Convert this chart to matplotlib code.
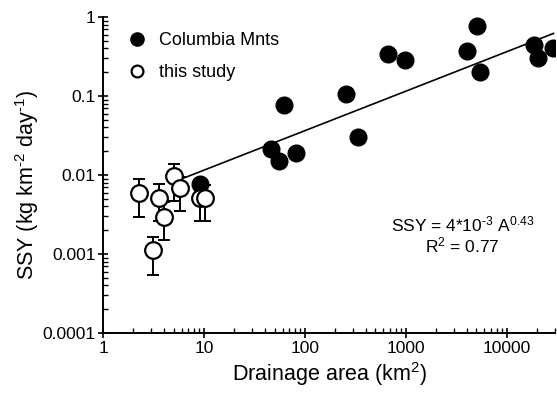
import matplotlib
matplotlib.use("Agg")
import matplotlib.pyplot as plt
from matplotlib.ticker import LogLocator, NullFormatter, FixedLocator, FixedFormatter

plt.rcParams['font.family'] = ['Liberation Sans', 'DejaVu Sans']
plt.rcParams['mathtext.fontset'] = 'custom'
plt.rcParams['mathtext.rm'] = 'Liberation Sans'
plt.rcParams['mathtext.it'] = 'Liberation Sans'
plt.rcParams['mathtext.bf'] = 'Liberation Sans:bold'

# Columbia Mnts (filled)
col_area = [9.2, 45.9, 55.6, 61.4, 81.3, 254, 334, 665, 988, 4064, 5109, 5380, 18450, 20200, 28500]
col_ssy = [0.0077, 0.0213, 0.0152, 0.077, 0.0191, 0.105, 0.0305, 0.337, 0.286, 0.375, 0.769, 0.20, 0.442, 0.305, 0.40]

# this study (open, with error bars)
ts_area = [2.28, 3.1, 3.55, 3.98, 5.09, 5.74, 9.2, 10.35]
ts_ssy = [0.00586, 0.00112, 0.00516, 0.00297, 0.0097, 0.0069, 0.00507, 0.0051]
ts_hi = [0.0088, 0.00163, 0.00776, 0.0046, 0.0138, 0.0095, 0.0075, 0.0075]
ts_lo = [0.00297, 0.00055, 0.00264, 0.0015, 0.0047, 0.0035, 0.0026, 0.0026]

# drawn regression line (end points)
fit_area = [6.1, 29000]
fit_ssy = [0.0090, 0.62]

xticks = [1, 10, 100, 1000, 10000]
xlabels = ["1", "10", "100", "1000", "10000"]
yticks = [0.0001, 0.001, 0.01, 0.1, 1]
ylabels = ["0.0001", "0.001", "0.01", "0.1", "1"]

fig = plt.figure(figsize=(5.57, 3.93), dpi=100)
ax = fig.add_axes([0.185, 0.1527, 0.8114, 0.804])

ax.plot(fit_area, fit_ssy, color="black", lw=1.2, zorder=2)
ax.plot(col_area, col_ssy, "o", color="black", ms=12, zorder=3)

err_lo = [s - l for s, l in zip(ts_ssy, ts_lo)]
err_hi = [h - s for s, h in zip(ts_ssy, ts_hi)]
ax.errorbar(ts_area, ts_ssy, yerr=[err_lo, err_hi], fmt="none", ecolor="black",
            elinewidth=1.4, capsize=4, capthick=1.4, zorder=4)
ax.plot(ts_area, ts_ssy, "o", mfc="white", mec="black", mew=1.6, ms=12, zorder=5)

ax.set_xscale("log")
ax.set_yscale("log")
ax.set_xlim(1, 30000)
ax.set_ylim(0.0001, 1)

ax.xaxis.set_major_locator(FixedLocator(xticks))
ax.xaxis.set_major_formatter(FixedFormatter(xlabels))
ax.yaxis.set_major_locator(FixedLocator(yticks))
ax.yaxis.set_major_formatter(FixedFormatter(ylabels))
ax.xaxis.set_minor_locator(LogLocator(base=10, subs=range(2, 10), numticks=20))
ax.yaxis.set_minor_locator(LogLocator(base=10, subs=range(2, 10), numticks=20))
ax.xaxis.set_minor_formatter(NullFormatter())
ax.yaxis.set_minor_formatter(NullFormatter())

ax.tick_params(which="major", direction="inout", length=7, width=1.2, labelsize=12.5, pad=2)
ax.tick_params(which="minor", direction="in", length=3.5, width=1.0)

for s in ["top", "right"]:
    ax.spines[s].set_visible(False)
for s in ["left", "bottom"]:
    ax.spines[s].set_linewidth(1.4)

ax.set_xlabel("Drainage area (km$^2$)", fontsize=15.5, labelpad=3)
ax.set_ylabel(r"SSY (kg km$^{\text{-}2}$ day$^{\text{-}1}$)", fontsize=15.5)
ax.yaxis.set_label_coords(-0.137, 0.47)

# legend
ax.plot([], [], "o", color="black", ms=9.5, label="Columbia Mnts")
ax.plot([], [], "o", mfc="white", mec="black", mew=1.6, ms=8.5, label="this study")
h, l = ax.get_legend_handles_labels()
ax.legend(h[-2:], l[-2:], loc="upper left", bbox_to_anchor=(0.04, 0.975), frameon=False,
          fontsize=13, handlelength=1.0, handletextpad=0.7, labelspacing=0.85,
          borderaxespad=0)

ax.text(0.796, 0.342, r"SSY = 4*10$^{\text{-}3}$ A$^{0.43}$", transform=ax.transAxes,
        ha="center", va="center", fontsize=12.5)
ax.text(0.796, 0.278, "R$^2$ = 0.77", transform=ax.transAxes,
        ha="center", va="center", fontsize=12.5)

fig.savefig("out.png", dpi=100)
